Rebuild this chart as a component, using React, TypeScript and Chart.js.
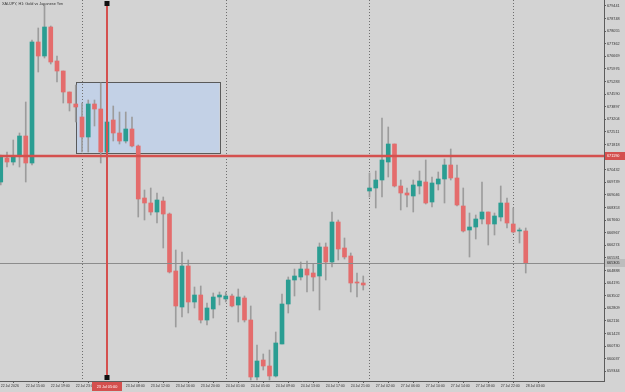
import { useEffect, useRef } from 'react';
import { Chart, registerables } from 'chart.js';

Chart.register(...registerables);

// ---- data (XAUJPY, H1) ----
const opens = [
  669760, 671080, 670860, 671245, 672290, 670805, 677460, 676690, 678285, 676415,
  675865, 674710, 674050, 673335, 672235, 674050, 673775, 671410, 673170, 672455,
  672015, 672675, 671740, 668880, 668605, 668110, 668715, 668000, 664865, 662885,
  665140, 663160, 663545, 662170, 662775, 663435, 663325, 663490, 662995, 663380,
  662170, 659035, 659970, 659640, 659090, 660850, 663050, 664370, 664535, 664975,
  664755, 664590, 666185, 665360, 667560, 666130, 665690, 664260, 664205, 669265,
  669430, 669870, 670860, 671850, 669540, 669155, 668990, 669540, 669760, 668660,
  669650, 669925, 670695, 669980, 668440, 667120, 667285, 667725, 668110, 667450,
  667835, 668605, 667450, 667065, 667065,
];
const highs = [
  671245, 671410, 672070, 672455, 674160, 677570, 678230, 679495, 678340, 676690,
  675865, 674710, 675095, 674105, 674270, 674270, 675205, 673170, 673940, 673610,
  673610, 673335, 671795, 669320, 669430, 669155, 668935, 668055, 666020, 665910,
  665470, 663985, 664040, 663105, 663655, 663710, 663710, 663600, 663875, 663490,
  662940, 660795, 660300, 660520, 661510, 663600, 664535, 664975, 665360, 665415,
  665250, 666405, 666405, 668110, 667670, 666680, 665855, 664755, 664590, 670255,
  670365, 673280, 672785, 671850, 669870, 669430, 669870, 670365, 670970, 670035,
  670310, 671025, 671575, 670695, 669430, 668055, 667945, 669760, 668110, 668055,
  669540, 668880, 668330, 667230, 667230,
];
const lows = [
  669595, 670585, 670695, 670585, 669760, 670695, 675810, 676580, 676250, 675260,
  674105, 673665, 673060, 671410, 671410, 672840, 670805, 671300, 672015, 671850,
  671905, 671685, 667835, 667670, 667945, 667505, 666130, 664755, 661785, 662335,
  662555, 662830, 662005, 661895, 662280, 662995, 663160, 662885, 662060, 662060,
  658870, 658870, 659420, 658870, 659035, 660850, 662555, 663490, 664370, 663710,
  663765, 662720, 664370, 665085, 665470, 665525, 663710, 663435, 663820, 668935,
  668330, 668935, 670035, 669485, 668220, 668385, 668110, 669100, 668550, 668385,
  669320, 668605, 669870, 668440, 667010, 665635, 666625, 667450, 666295, 666845,
  667615, 667230, 666955, 666405, 664755,
];
const closes = [
  671135, 670860, 671190, 672290, 670805, 677460, 676690, 678285, 676360, 675865,
  674710, 674105, 673885, 672235, 674050, 673775, 671410, 673060, 672455, 672015,
  672675, 671740, 668825, 668605, 668110, 668770, 668000, 664810, 662940, 665140,
  663160, 663545, 662170, 662830, 663435, 663545, 663490, 662940, 663435, 662170,
  659035, 659915, 659640, 659090, 660905, 663050, 664370, 664590, 664975, 664645,
  664535, 666185, 665360, 667560, 666075, 665635, 664205, 664205, 664095, 669430,
  669870, 670970, 671850, 669540, 669155, 669045, 669595, 669815, 668605, 669705,
  669925, 670695, 669980, 668495, 667065, 667285, 667725, 668110, 667450, 667890,
  668605, 667505, 667010, 667120, 665305,
];

const timeTickBars = [0, 4, 8, 12, 16, 20, 24, 28, 32, 36, 40, 44, 48, 52, 56, 60, 64, 68, 72, 76, 80, 84];
const timeTickLabels = [
  '22 Jul 2026', '22 Jul 15:00', '22 Jul 19:00', '22 Jul 23:00', '23 Jul 04:00', '23 Jul 08:00',
  '23 Jul 12:00', '23 Jul 16:00', '23 Jul 20:00', '24 Jul 01:00', '24 Jul 05:00', '24 Jul 09:00',
  '24 Jul 13:00', '24 Jul 17:00', '24 Jul 21:00', '27 Jul 02:00', '27 Jul 06:00', '27 Jul 10:00',
  '27 Jul 14:00', '27 Jul 18:00', '27 Jul 22:00', '28 Jul 03:00',
];
const priceTicks = [
  679441, 678748, 678055, 677362, 676669, 675976, 675283, 674590, 673897, 673204,
  672511, 671818, 671125, 670432, 669739, 669046, 668353, 667660, 666967, 666274,
  665581, 664888, 664195, 663502, 662809, 662116, 661423, 660730, 660037, 659344,
];
const dayStartBars = [13, 36, 59, 82];

const rectStartBar = 12;
const rectEndBar = 35;
const rectTop = 675260;
const rectBottom = 671380;
const hLineLevel = 671190;
const cursorBar = 17;
const cursorLabel = '23 Jul 05:00';
const titleText = 'XAUJPY, H1: Gold vs Japanese Yen';

const xMin = -0.12;
const xMax = 96.52;
const yMin = 658815;
const yMax = 679770;

// ---- styles ----
const BG = '#d3d3d3';
const BULL = '#2a9d92';
const BEAR = '#e46c6c';
const WICK = '#9c9c9c';
const RED = '#d4504e';
const AXIS = '#5c5c5c';
const TEXT = '#333333';
const FONT = '"Liberation Sans", Arial, sans-serif';

export default function App() {
  const ref = useRef<HTMLCanvasElement>(null);

  useEffect(() => {
    document.body.style.margin = '0';
    document.body.style.background = BG;
    const canvas = ref.current!;
    const bodyData = opens.map((o, i) => ({ x: i, y: [o, closes[i]] }));
    const wickData = opens.map((_, i) => ({ x: i, y: [lows[i], highs[i]] }));
    const bodyColors = opens.map((o, i) => (closes[i] >= o ? BULL : BEAR));

    const overlay = {
      id: 'overlay',
      beforeDraw(chart: any) {
        const { ctx, width, height } = chart;
        ctx.save();
        ctx.fillStyle = BG;
        ctx.fillRect(0, 0, width, height);
        ctx.restore();
      },
      beforeDatasetsDraw(chart: any) {
        const { ctx, chartArea: a, scales } = chart;
        const x = scales.x, y = scales.y;
        ctx.save();
        const x1 = x.getPixelForValue(rectStartBar);
        const x2 = x.getPixelForValue(rectEndBar);
        const y1 = y.getPixelForValue(rectTop);
        const y2 = y.getPixelForValue(rectBottom);
        ctx.fillStyle = '#c3d1e6';
        ctx.fillRect(x1, y1, x2 - x1, y2 - y1);
        ctx.strokeStyle = '#5a5a5a';
        ctx.lineWidth = 1;
        ctx.strokeRect(Math.round(x1) + 0.5, Math.round(y1) + 0.5, Math.round(x2 - x1), Math.round(y2 - y1));
        ctx.strokeStyle = '#6e6e6e';
        ctx.setLineDash([1, 2]);
        dayStartBars.forEach((b) => {
          const px = Math.round(x.getPixelForValue(b)) + 0.5;
          ctx.beginPath();
          ctx.moveTo(px, a.top);
          ctx.lineTo(px, a.bottom);
          ctx.stroke();
        });
        ctx.restore();
      },
      afterDatasetsDraw(chart: any) {
        const { ctx, chartArea: a, scales } = chart;
        const x = scales.x, y = scales.y;
        ctx.save();
        // bid line
        const by = Math.round(y.getPixelForValue(closes[closes.length - 1])) + 0.5;
        ctx.strokeStyle = '#8c8c8c';
        ctx.lineWidth = 1;
        ctx.beginPath();
        ctx.moveTo(a.left, by);
        ctx.lineTo(a.right, by);
        ctx.stroke();
        // red horizontal line
        const hy = y.getPixelForValue(hLineLevel);
        ctx.strokeStyle = RED;
        ctx.lineWidth = 2.6;
        ctx.beginPath();
        ctx.moveTo(a.left, hy);
        ctx.lineTo(a.right, hy);
        ctx.stroke();
        // red vertical line
        const vx = x.getPixelForValue(cursorBar);
        ctx.lineWidth = 2;
        ctx.beginPath();
        ctx.moveTo(vx, a.top + 3);
        ctx.lineTo(vx, a.bottom - 3);
        ctx.stroke();
        ctx.fillStyle = '#111';
        ctx.fillRect(vx - 2.5, a.top + 1, 5, 5);
        ctx.fillRect(vx - 2.5, a.bottom - 6, 5, 5);
        ctx.restore();
      },
      afterDraw(chart: any) {
        const { ctx, chartArea: a, scales, width } = chart;
        const x = scales.x, y = scales.y;
        ctx.save();
        ctx.textBaseline = 'middle';
        // title
        ctx.font = `3.8px ${FONT}`;
        ctx.fillStyle = TEXT;
        ctx.textAlign = 'left';
        ctx.fillText(titleText, 2, 4);
        // red price label
        const hy = y.getPixelForValue(hLineLevel);
        ctx.fillStyle = RED;
        ctx.fillRect(a.right + 1, hy - 4, width - a.right - 1, 8);
        ctx.fillStyle = '#ffffff';
        ctx.fillText(String(hLineLevel), a.right + 3, hy);
        // bid label
        const last = closes[closes.length - 1];
        const by = y.getPixelForValue(last);
        ctx.fillStyle = '#bdbdbd';
        ctx.fillRect(a.right + 1, by - 4, width - a.right - 1, 8);
        ctx.fillStyle = '#222';
        ctx.fillText(String(last), a.right + 3, by);
        // cursor time label
        const vx = x.getPixelForValue(cursorBar);
        ctx.fillStyle = RED;
        ctx.fillRect(vx - 15, a.bottom + 1, 30, 9);
        ctx.fillStyle = '#ffffff';
        ctx.textAlign = 'center';
        ctx.fillText(cursorLabel, vx, a.bottom + 5.5);
        ctx.restore();
      },
    };

    const chart = new Chart(canvas, {
      type: 'bar',
      data: {
        datasets: [
          {
            label: 'wick',
            data: wickData as any,
            backgroundColor: WICK,
            barThickness: 1,
            grouped: false,
            order: 2,
            borderWidth: 0,
          } as any,
          {
            label: 'body',
            data: bodyData as any,
            backgroundColor: bodyColors,
            barThickness: 4,
            grouped: false,
            order: 1,
            borderWidth: 0,
            minBarLength: 1,
          } as any,
        ],
      },
      options: {
        animation: false,
        responsive: false,
        devicePixelRatio: 1,
        layout: { padding: 0 },
        plugins: { legend: { display: false }, tooltip: { enabled: false } },
        scales: {
          x: {
            type: 'linear',
            min: xMin,
            max: xMax,
            offset: false,
            grid: { display: true, drawOnChartArea: false, drawTicks: true, tickLength: 2, color: AXIS },
            border: { display: true, color: AXIS, width: 1 },
            ticks: {
              autoSkip: false,
              maxRotation: 0,
              minRotation: 0,
              align: 'start',
              padding: 1,
              color: TEXT,
              font: { size: 3.5, family: FONT },
              callback: (v: any) => {
                const k = timeTickBars.indexOf(Number(v));
                return k >= 0 ? timeTickLabels[k] : '';
              },
            },
            afterBuildTicks: (s: any) => {
              s.ticks = timeTickBars.map((v) => ({ value: v }));
            },
            afterFit: (s: any) => {
              s.height = 11;
              s.paddingLeft = 0;
              s.paddingRight = 0;
            },
          } as any,
          y: {
            type: 'linear',
            position: 'right',
            min: yMin,
            max: yMax,
            grid: { display: true, drawOnChartArea: false, drawTicks: true, tickLength: 2, color: AXIS },
            border: { display: true, color: AXIS, width: 1 },
            ticks: {
              autoSkip: false,
              padding: 1,
              color: TEXT,
              crossAlign: 'near',
              font: { size: 3.8, family: FONT },
              callback: (v: any) => String(v),
            },
            afterBuildTicks: (s: any) => {
              s.ticks = priceTicks.map((v) => ({ value: v }));
            },
            afterFit: (s: any) => {
              s.width = 21;
              s.paddingTop = 0;
              s.paddingBottom = 0;
            },
          } as any,
        },
      },
      plugins: [overlay as any],
    });

    return () => chart.destroy();
  }, []);

  return (
    <div style={{ width: 625, height: 392, background: BG }}>
      <canvas ref={ref} width={625} height={392} style={{ display: 'block', width: 625, height: 392 }} />
    </div>
  );
}
